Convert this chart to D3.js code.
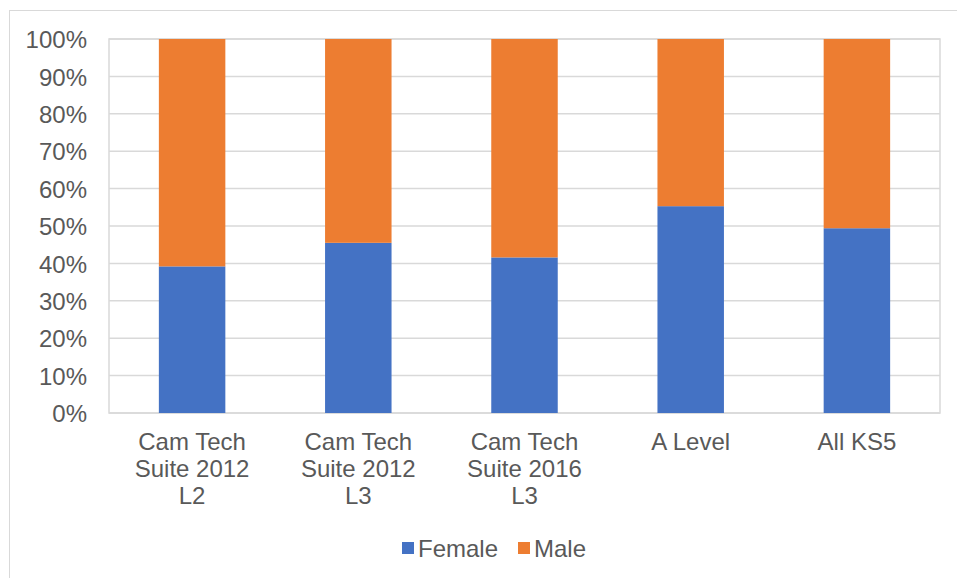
<!DOCTYPE html>
<html>
<head>
<meta charset="utf-8">
<script src="https://cdn.jsdelivr.net/npm/d3@7"></script>
<style>
  body { margin: 0; background: #fff; }
  text { font-family: "Liberation Sans", Arial, sans-serif; fill: #595959; }
</style>
</head>
<body>
<div id="container"></div>
<script>
// data
var categories = [
    ["Cam Tech", "Suite 2012", "L2"],
    ["Cam Tech", "Suite 2012", "L3"],
    ["Cam Tech", "Suite 2016", "L3"],
    ["A Level"],
    ["All KS5"]
];
var seriesNames = ["Female", "Male"];
var female = [39.2, 45.5, 41.6, 55.3, 49.4];
var male = [60.8, 54.5, 58.4, 44.7, 50.6];
var yTicks = [0, 10, 20, 30, 40, 50, 60, 70, 80, 90, 100];

var colors = {Female: "#4472C4", Male: "#ED7D31"};

var width = 957, height = 578;
var plot = {left: 109, right: 940, top: 39, bottom: 413};
var fontSize = "24px";

var svg = d3.select("#container").append("svg")
    .attr("width", width)
    .attr("height", height);

// outer chart frame (runs off the right and bottom edges)
svg.append("rect")
    .attr("x", 9.5).attr("y", 10.5)
    .attr("width", 960).attr("height", 600)
    .attr("fill", "#fff")
    .attr("stroke", "#d9d9d9");

var x = d3.scaleBand()
    .domain(d3.range(categories.length))
    .range([plot.left, plot.right])
    .paddingInner(0.6)
    .paddingOuter(0.3);

var y = d3.scaleLinear()
    .domain([0, 100])
    .range([plot.bottom, plot.top]);

// gridlines
svg.append("g")
    .selectAll("line")
    .data(yTicks)
    .enter().append("line")
    .attr("x1", plot.left).attr("x2", plot.right)
    .attr("y1", function(d) { return y(d); })
    .attr("y2", function(d) { return y(d); })
    .attr("stroke", "#d9d9d9")
    .attr("stroke-width", 1.5);

// plot border
svg.append("rect")
    .attr("x", plot.left).attr("y", plot.top)
    .attr("width", plot.right - plot.left)
    .attr("height", plot.bottom - plot.top)
    .attr("fill", "none")
    .attr("stroke", "#d9d9d9")
    .attr("stroke-width", 1.5);

// stacked bars
var rows = categories.map(function(c, i) {
    return {Female: female[i], Male: male[i], i: i};
});
var stack = d3.stack().keys(seriesNames)(rows);

svg.append("g")
    .selectAll("g")
    .data(stack)
    .enter().append("g")
    .attr("fill", function(d) { return colors[d.key]; })
    .selectAll("rect")
    .data(function(d) { return d; })
    .enter().append("rect")
    .attr("x", function(d) { return x(d.data.i); })
    .attr("width", x.bandwidth())
    .attr("y", function(d) { return y(d[1]); })
    .attr("height", function(d) { return y(d[0]) - y(d[1]); });

// y axis labels
var yAxis = svg.append("g")
    .attr("transform", "translate(" + plot.left + ",0)")
    .call(d3.axisLeft(y).tickValues(yTicks).tickFormat(function(d) { return d + "%"; }).tickSize(0).tickPadding(22));
yAxis.select(".domain").remove();
yAxis.selectAll("text")
    .attr("font-size", fontSize)
    .attr("font-family", "Liberation Sans, Arial, sans-serif")
    .attr("fill", "#595959")
    .attr("dy", "0.36em");

// x category labels (wrapped)
var xl = svg.append("g")
    .selectAll("text")
    .data(categories)
    .enter().append("text")
    .attr("text-anchor", "middle")
    .attr("font-size", fontSize)
    .attr("x", function(d, i) { return x(i) + x.bandwidth() / 2; })
    .attr("y", 450);
xl.selectAll("tspan")
    .data(function(d) { return d; })
    .enter().append("tspan")
    .attr("x", function() { return d3.select(this.parentNode).attr("x"); })
    .attr("dy", function(d, j) { return j === 0 ? 0 : 27; })
    .text(function(d) { return d; });

// legend
var legend = svg.append("g");
var legendX = [402, 518];
seriesNames.forEach(function(name, k) {
    legend.append("rect")
        .attr("x", legendX[k]).attr("y", 542)
        .attr("width", 12).attr("height", 12)
        .attr("fill", colors[name]);
    legend.append("text")
        .attr("x", legendX[k] + 16).attr("y", 557)
        .attr("font-size", fontSize)
        .text(name);
});
</script>
</body>
</html>
